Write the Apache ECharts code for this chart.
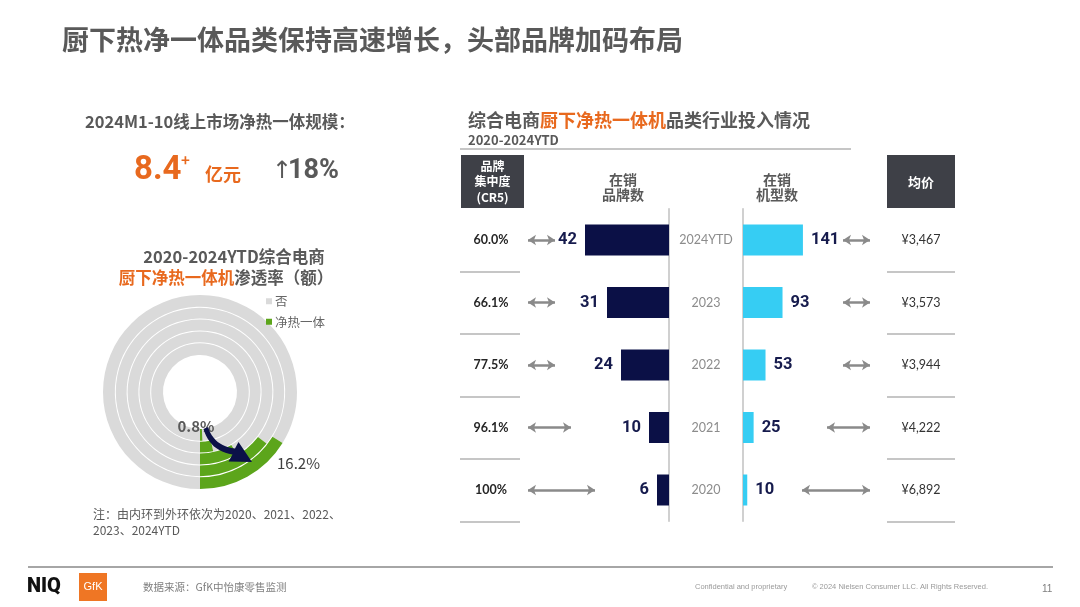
<!DOCTYPE html>
<html>
<head>
<meta charset="utf-8">
<script src="https://cdn.jsdelivr.net/npm/echarts@6/dist/echarts.min.js"></script>
<style>
html,body{margin:0;padding:0;background:#fff;}
#main{width:1080px;height:607px;}
</style>
</head>
<body>
<div id="main"></div>
<script>
// ---------- data ----------
const years = ['2024YTD', '2023', '2022', '2021', '2020'];
const brandCounts = [42, 31, 24, 10, 6];
const modelCounts = [141, 93, 53, 25, 10];
const cr5Labels = ['60.0%', '66.1%', '77.5%', '96.1%', '100%'];
const avgPrices = ['¥3,467', '¥3,573', '¥3,944', '¥4,222', '¥6,892'];
const ringYears = ['2020', '2021', '2022', '2023', '2024YTD'];
const penetration = [0.8, 3.5, 8.5, 14.5, 16.2];
const marketSize = '8.4';
const growth = '18%';

// ---------- layout constants ----------
const CJK = '"Noto Sans CJK SC", "Noto Sans", sans-serif';
const LAT = 'Lato, "Noto Sans CJK SC", sans-serif';
const ORANGE = '#e8691e';
const GREY_T = '#595959';
const NAVY = '#0b1046';
const CYAN = '#36cdf3';
const tableTop = 208.75, tableH = 312.5;
const rowH = tableH / years.length;
const rowY = i => tableTop + rowH * (i + 0.5);
const leftArrowEnd = [555, 555, 555, 571, 595];
const rightArrowStart = [843, 843, 843, 827, 802];
const ringRadii = [[37, 48.8], [49.8, 60.6], [61.6, 72.4], [73.4, 84.2], [85.2, 97]];

function quad(p0, c, p1, n) {
  const pts = [];
  for (let k = 0; k <= n; k++) {
    const t = k / n, u = 1 - t;
    pts.push([u * u * p0[0] + 2 * u * t * c[0] + t * t * p1[0], u * u * p0[1] + 2 * u * t * c[1] + t * t * p1[1]]);
  }
  return pts;
}
const arrowShape = []
  .concat(quad([208, 427], [214, 446], [235, 448.5], 12))
  .concat([[238.5, 442], [252, 462], [228.5, 461.5]])
  .concat(quad([232.5, 454.5], [210, 451], [203.5, 429], 12));

const chart = echarts.init(document.getElementById('main'), null, {renderer: 'canvas'});

function txt(x, y, text, opts) {
  return {
    type: 'text', x: x, y: y, z: 100, silent: true,
    style: Object.assign({
      text: text, fill: GREY_T, fontFamily: CJK, fontSize: 12,
      textAlign: 'left', textVerticalAlign: 'middle'
    }, opts || {})
  };
}

// pie series (inner ring = 2020)
const pieSeries = ringYears.map((y, i) => ({
  type: 'pie', name: y, silent: true,
  center: [200, 392], radius: ringRadii[i],
  startAngle: 270, clockwise: true,
  label: {show: false}, labelLine: {show: false},
  itemStyle: {borderWidth: 0},
  emphasis: {disabled: true},
  data: [
    {name: '否', value: +(100 - penetration[i]).toFixed(1), itemStyle: {color: '#dadada'}},
    {name: '净热一体', value: penetration[i], itemStyle: {color: '#5ca51b'}}
  ]
}));

const arrowLines = [];
years.forEach((y, i) => {
  arrowLines.push([{x: 528, y: rowY(i)}, {x: leftArrowEnd[i], y: rowY(i)}]);
  arrowLines.push([{x: rightArrowStart[i], y: rowY(i)}, {x: 870, y: rowY(i)}]);
});

const graphics = [
  txt(62, 40, '厨下热净一体品类保持高速增长，头部品牌加码布局', {fontSize: 27, fontWeight: 'bold', fill: GREY_T}),
  txt(85, 122, '2024M1-10线上市场净热一体规模：', {fontSize: 16.5, fontWeight: 'bold', fill: GREY_T}),
  txt(134, 171, marketSize, {fontSize: 33, fontWeight: 'bold', fill: ORANGE, fontFamily: 'Roboto, sans-serif'}),
  txt(181, 160, '+', {fontSize: 15, fontWeight: 'bold', fill: ORANGE}),
  txt(205, 174, '亿元', {fontSize: 18, fontWeight: 'bold', fill: ORANGE}),
  txt(272, 172, '↑', {fontSize: 24, fill: GREY_T, fontFamily: 'DejaVu Sans'}),
  txt(288, 171, growth, {fontSize: 27, fontWeight: 'bold', fill: GREY_T, fontFamily: 'Roboto, sans-serif'}),
  txt(234, 257, '2020-2024YTD综合电商', {fontSize: 16.5, fontWeight: 'bold', fill: GREY_T, textAlign: 'center'}),
  {
    type: 'text', x: 226, y: 278, z: 100, silent: true,
    style: {
      text: '{o|厨下净热一体机}{g|渗透率（额）}', textAlign: 'center', textVerticalAlign: 'middle',
      rich: {
        o: {fill: ORANGE, fontSize: 16.5, fontWeight: 'bold', fontFamily: CJK},
        g: {fill: GREY_T, fontSize: 16.5, fontWeight: 'bold', fontFamily: CJK}
      }
    }
  },
  txt(196, 426, penetration[0] + '%', {fontSize: 15, fontWeight: 'bold', fill: GREY_T, textAlign: 'center'}),
  txt(277, 463, penetration[4] + '%', {fontSize: 15, fill: '#404040'}),
  {type: 'polygon', z: 100, silent: true, shape: {points: arrowShape}, style: {fill: '#0b1148'}},
  txt(93, 514, '注：由内环到外环依次为2020、2021、2022、', {fontSize: 12, fill: '#595959'}),
  txt(93, 530, '2023、2024YTD', {fontSize: 12, fill: '#595959'}),
  {
    type: 'text', x: 468, y: 120, z: 100, silent: true,
    style: {
      text: '{g|综合电商}{o|厨下净热一体机}{g|品类行业投入情况}', textVerticalAlign: 'middle',
      rich: {
        o: {fill: ORANGE, fontSize: 18, fontWeight: 'bold', fontFamily: CJK},
        g: {fill: GREY_T, fontSize: 18, fontWeight: 'bold', fontFamily: CJK}
      }
    }
  },
  txt(468, 140, '2020-2024YTD', {fontSize: 13, fontWeight: 'bold', fill: GREY_T}),
  {type: 'line', z: 100, silent: true, shape: {x1: 460, y1: 149, x2: 851, y2: 149}, style: {stroke: '#b3b3b3', lineWidth: 1.5}},
  {type: 'rect', z: 90, silent: true, shape: {x: 461, y: 155, width: 63, height: 53}, style: {fill: '#3e4047'}},
  txt(492.5, 166, '品牌', {fontSize: 12, fontWeight: 'bold', fill: '#fff', textAlign: 'center'}),
  txt(492.5, 181, '集中度', {fontSize: 12, fontWeight: 'bold', fill: '#fff', textAlign: 'center'}),
  txt(492.5, 197, '(CR5)', {fontSize: 12, fontWeight: 'bold', fill: '#fff', textAlign: 'center'}),
  {type: 'rect', z: 90, silent: true, shape: {x: 887, y: 155, width: 68, height: 53}, style: {fill: '#3e4047'}},
  txt(921, 182, '均价', {fontSize: 13, fontWeight: 'bold', fill: '#fff', textAlign: 'center'}),
  txt(623, 180, '在销', {fontSize: 14, fontWeight: 'bold', fill: GREY_T, textAlign: 'center'}),
  txt(623, 195, '品牌数', {fontSize: 14, fontWeight: 'bold', fill: GREY_T, textAlign: 'center'}),
  txt(777, 180, '在销', {fontSize: 14, fontWeight: 'bold', fill: GREY_T, textAlign: 'center'}),
  txt(777, 195, '机型数', {fontSize: 14, fontWeight: 'bold', fill: GREY_T, textAlign: 'center'}),
  {type: 'line', z: 100, silent: true, shape: {x1: 28, y1: 567, x2: 1053, y2: 567}, style: {stroke: '#a6a6a6', lineWidth: 2}},
  txt(27, 587, 'NIQ', {fontSize: 20, fontWeight: 900, fill: '#111', fontFamily: 'Roboto, sans-serif'}),
  {type: 'rect', z: 90, silent: true, shape: {x: 79, y: 573, width: 28, height: 28}, style: {fill: '#ef7624'}},
  txt(93, 587, 'GfK', {fontSize: 11, fill: '#fff', textAlign: 'center', fontFamily: 'Liberation Sans, sans-serif'}),
  txt(143, 587, '数据来源：GfK中怡康零售监测', {fontSize: 10.5, fill: '#7f7f7f'}),
  txt(695, 587, 'Confidential and proprietary', {fontSize: 7.5, fill: '#9a9a9a', fontFamily: 'Liberation Sans, sans-serif'}),
  txt(812, 587, '© 2024 Nielsen Consumer LLC. All Rights Reserved.', {fontSize: 7.5, fill: '#9a9a9a', fontFamily: 'Liberation Sans, sans-serif'}),
  txt(1042, 589, '11', {fontSize: 10, fill: '#7f7f7f', fontFamily: 'Liberation Sans, sans-serif'})
];

const option = {
  backgroundColor: '#fff',
  animation: false,
  textStyle: {fontFamily: CJK},
  legend: {
    orient: 'vertical', left: 266, top: 295, padding: 0,
    itemWidth: 6, itemHeight: 6, itemGap: 8, icon: 'rect',
    selectedMode: false,
    data: ['否', '净热一体'],
    textStyle: {fontSize: 12.5, color: '#666', fontFamily: CJK, padding: [0, 0, 0, -2]}
  },
  grid: [
    {left: 469, width: 200, top: tableTop, height: tableH, outerBoundsMode: 'none'},
    {left: 743, width: 170, top: tableTop, height: tableH, outerBoundsMode: 'none'},
    {left: 460, width: 60, top: tableTop, height: tableH, outerBoundsMode: 'none'},
    {left: 887, width: 68, top: tableTop, height: tableH, outerBoundsMode: 'none'}
  ],
  xAxis: [
    {gridIndex: 0, type: 'value', min: 0, max: 100, inverse: true, show: false},
    {gridIndex: 1, type: 'value', min: 0, max: 400, show: false},
    {gridIndex: 2, type: 'value', min: 0, max: 1, show: false},
    {gridIndex: 3, type: 'value', min: 0, max: 1, show: false}
  ],
  yAxis: [
    {
      gridIndex: 0, type: 'category', data: years, inverse: true, position: 'right',
      axisLine: {show: true, lineStyle: {color: '#c0c0c0', width: 1.5}},
      axisTick: {show: false}, axisLabel: {show: false}, splitLine: {show: false}
    },
    {
      gridIndex: 1, type: 'category', data: years, inverse: true, position: 'left',
      axisLine: {show: true, lineStyle: {color: '#c0c0c0', width: 1.5}},
      axisTick: {show: false},
      axisLabel: {show: true, margin: 37, align: 'center', color: '#8c8c8c', fontSize: 12.5, fontFamily: LAT},
      splitLine: {show: false}
    },
    {
      gridIndex: 2, type: 'category', data: cr5Labels, inverse: true,
      axisLine: {show: false}, axisTick: {show: false},
      axisLabel: {show: true, inside: true, margin: 31, align: 'center', color: '#262626', fontSize: 12.5, fontWeight: 'bold', fontFamily: LAT},
      splitLine: {show: true, interval: 0, showMinLine: false, lineStyle: {color: '#b3b3b3', width: 1.5}}
    },
    {
      gridIndex: 3, type: 'category', data: avgPrices, inverse: true,
      axisLine: {show: false}, axisTick: {show: false},
      axisLabel: {show: true, inside: true, margin: 34, align: 'center', color: '#333', fontSize: 12.5, fontFamily: LAT},
      splitLine: {show: true, interval: 0, showMinLine: false, lineStyle: {color: '#b3b3b3', width: 1.5}}
    }
  ],
  series: [
    {
      type: 'bar', name: '在销品牌数', xAxisIndex: 0, yAxisIndex: 0, barWidth: 31, silent: true,
      itemStyle: {color: NAVY},
      label: {show: true, position: 'left', distance: 8, color: '#161b4d', fontSize: 16.5, fontWeight: 'bold', fontFamily: 'Roboto, sans-serif'},
      data: brandCounts,
      markLine: {
        silent: true, symbol: ['arrow', 'arrow'], symbolSize: [8, 8],
        label: {show: false},
        lineStyle: {color: '#8a8a8a', width: 2.5, type: 'solid'},
        data: arrowLines
      }
    },
    {
      type: 'bar', name: '在销机型数', xAxisIndex: 1, yAxisIndex: 1, barWidth: 31, silent: true,
      itemStyle: {color: CYAN},
      label: {show: true, position: 'right', distance: 8, color: '#161b4d', fontSize: 16.5, fontWeight: 'bold', fontFamily: 'Roboto, sans-serif'},
      data: modelCounts
    }
  ].concat(pieSeries),
  graphic: {elements: graphics}
};

chart.setOption(option);
</script>
</body>
</html>
